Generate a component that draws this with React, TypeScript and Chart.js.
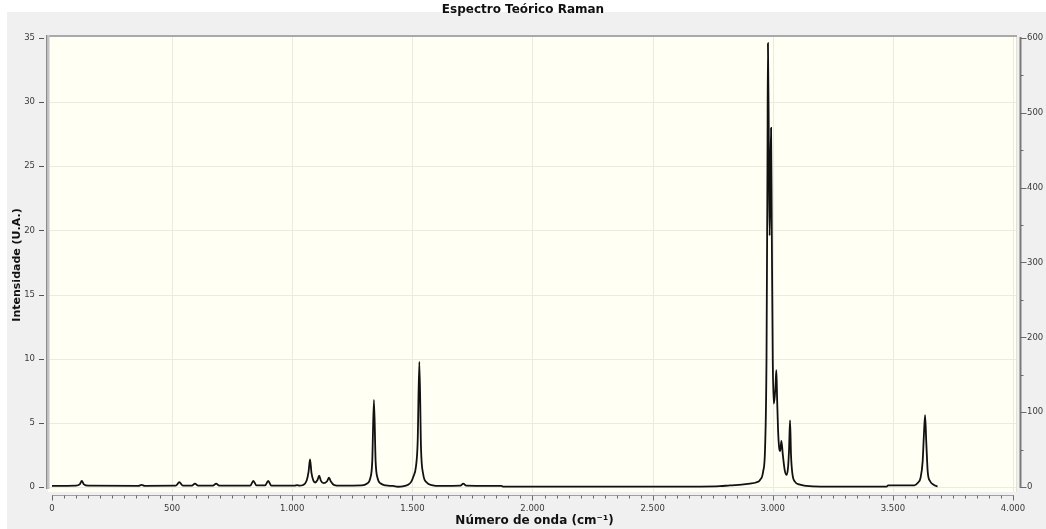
import { useEffect, useRef } from "react";
import { Chart, registerables } from "chart.js";

Chart.register(...registerables);

// ---- data ----
const wavenumbers: number[] = [
  0, 100, 115, 124, 133, 150, 360, 373, 386, 515, 530, 545,
  582, 595, 608, 670, 683, 696, 825, 838, 851, 887, 900, 913,
  1010, 1020, 1030, 1045, 1060, 1068, 1074, 1080, 1088, 1095, 1105, 1112,
  1119, 1130, 1145, 1153, 1160, 1175, 1200, 1290, 1310, 1325, 1333, 1340,
  1347, 1355, 1370, 1390, 1420, 1440, 1460, 1480, 1495, 1504, 1515, 1522,
  1529, 1536, 1545, 1560, 1580, 1620, 1700, 1712, 1724, 1870, 1880, 2700,
  2780, 2822, 2870, 2905, 2930, 2947, 2960, 2968, 2974, 2978, 2980, 2984,
  2987, 2990, 2993, 2996, 3000, 3004, 3008, 3012, 3015, 3018, 3022, 3027,
  3031, 3036, 3042, 3050, 3058, 3064, 3068, 3072, 3076, 3082, 3093, 3110,
  3141, 3200, 3474, 3480, 3590, 3605, 3615, 3624, 3629, 3634, 3639, 3645,
  3655, 3668, 3682, 3686,
];
const intensities: number[] = [
  0.08, 0.1, 0.2, 0.47, 0.2, 0.1, 0.09, 0.16, 0.09, 0.1, 0.37, 0.1,
  0.1, 0.27, 0.1, 0.1, 0.27, 0.1, 0.1, 0.47, 0.12, 0.12, 0.47, 0.1,
  0.1, 0.15, 0.1, 0.15, 0.5, 1.2, 2.15, 1.1, 0.5, 0.35, 0.55, 0.88,
  0.5, 0.3, 0.45, 0.73, 0.45, 0.15, 0.1, 0.12, 0.25, 0.7, 2.0, 6.78,
  2.0, 0.7, 0.25, 0.12, 0.08, 0.02, 0.05, 0.15, 0.4, 0.8, 1.6, 3.5,
  9.77, 3.0, 1.0, 0.35, 0.15, 0.08, 0.1, 0.26, 0.1, 0.08, 0.03, 0.03,
  0.06, 0.13, 0.18, 0.26, 0.35, 0.55, 1.2, 3.0, 10, 25, 34.6, 26,
  19.6, 24, 28.0, 20, 10, 6.5, 7.0, 8.1, 9.1, 7.0, 4.5, 3.0,
  2.8, 3.6, 2.5, 1.3, 0.94, 1.6, 3.0, 5.2, 2.5, 1.0, 0.4, 0.2,
  0.08, 0.03, 0.03, 0.13, 0.13, 0.35, 0.7, 2.0, 4.0, 5.6, 3.5, 1.2,
  0.45, 0.2, 0.06, 0.05,
];

const xMajorTicks: number[] = [0, 500, 1000, 1500, 2000, 2500, 3000, 3500, 4000];
const xMinorStep = 50;
const leftTicks: number[] = [0, 5, 10, 15, 20, 25, 30, 35];
const rightTicks: number[] = [0, 100, 200, 300, 400, 500, 600];
const rightMinorStep = 50;

const titleText = "Espectro Teórico Raman";
const xTitle = "Número de onda (cm⁻¹)";
const yTitle = "Intensidade (U.A.)";

const fmt = (v: number) => String(v).replace(/\B(?=(\d{3})+(?!\d))/g, ".");

const FONT = "'DejaVu Sans', 'Liberation Sans', sans-serif";

const framePlugin = {
  id: "frame",
  beforeDraw(chart: any) {
    const ctx = chart.ctx as CanvasRenderingContext2D;
    const { width, height } = chart;
    const ca = chart.chartArea;
    const xs = chart.scales.x;
    const yl = chart.scales.y;
    const yr = chart.scales.y2;
    ctx.save();
    ctx.fillStyle = "#ffffff";
    ctx.fillRect(0, 0, width, height);
    ctx.fillStyle = "#f0f0f0";
    ctx.fillRect(7, 12, width - 7, height - 12);

    const bgL = ca.left;
    const bgT = ca.top;
    const bgR = ca.right - 5;
    const bgB = ca.bottom - 3;
    ctx.fillStyle = "#fffff4";
    ctx.fillRect(bgL, bgT, bgR - bgL, bgB - bgT);

    // grid lines
    ctx.strokeStyle = "#ebebdf";
    ctx.lineWidth = 1;
    ctx.beginPath();
    for (const v of xMajorTicks) {
      if (v === 0) continue;
      const px = Math.round(xs.getPixelForValue(v)) + 0.5;
      ctx.moveTo(px, bgT);
      ctx.lineTo(px, bgB);
    }
    for (const v of leftTicks) {
      if (v === leftTicks[leftTicks.length - 1]) continue;
      const py = Math.round(yl.getPixelForValue(v)) + 0.5;
      ctx.moveTo(bgL, py);
      ctx.lineTo(bgR, py);
    }
    ctx.stroke();

    // right faint edge
    ctx.strokeStyle = "#e2e2da";
    ctx.beginPath();
    ctx.moveTo(bgR + 0.5, bgT);
    ctx.lineTo(bgR + 0.5, bgB);
    ctx.stroke();

    // top border
    ctx.strokeStyle = "#a9a9a9";
    ctx.lineWidth = 2;
    ctx.beginPath();
    ctx.moveTo(bgL, bgT + 1);
    ctx.lineTo(bgR + 1, bgT + 1);
    ctx.stroke();

    // left axis line (double shade)
    const yTop = bgT;
    const yBot = yl.getPixelForValue(0) + 2;
    ctx.strokeStyle = "#8c8c8c";
    ctx.lineWidth = 1.5;
    ctx.beginPath();
    ctx.moveTo(bgL - 1.25, yTop);
    ctx.lineTo(bgL - 1.25, yBot);
    ctx.stroke();
    ctx.strokeStyle = "#c4c4c4";
    ctx.lineWidth = 1.5;
    ctx.beginPath();
    ctx.moveTo(bgL + 0.75, yTop);
    ctx.lineTo(bgL + 0.75, yBot);
    ctx.stroke();

    // left ticks
    ctx.strokeStyle = "#555555";
    ctx.lineWidth = 1;
    ctx.beginPath();
    for (const v of leftTicks) {
      const py = Math.round(yl.getPixelForValue(v)) + 0.5;
      ctx.moveTo(bgL - 9, py);
      ctx.lineTo(bgL - 4, py);
    }
    ctx.stroke();

    // x axis line and ticks
    const x0 = xs.getPixelForValue(xMajorTicks[0]);
    const x1 = xs.getPixelForValue(xMajorTicks[xMajorTicks.length - 1]);
    const ay = ca.bottom + 0.5;
    ctx.strokeStyle = "#a0a0a0";
    ctx.lineWidth = 1;
    ctx.beginPath();
    ctx.moveTo(x0, ay);
    ctx.lineTo(x1 + 1, ay);
    ctx.stroke();
    ctx.strokeStyle = "#6a6a6a";
    ctx.beginPath();
    const xMax = xMajorTicks[xMajorTicks.length - 1];
    for (let v = xMajorTicks[0]; v <= xMax; v += xMinorStep) {
      const px = Math.round(xs.getPixelForValue(v)) + 0.5;
      const major = v % 500 === 0;
      ctx.moveTo(px, ay);
      ctx.lineTo(px, ay + (major ? 5 : 3));
    }
    ctx.stroke();

    // right axis line and ticks
    const rx = ca.right - 0.5;
    const ry0 = yr.getPixelForValue(0);
    const ry1 = yr.getPixelForValue(rightTicks[rightTicks.length - 1]);
    ctx.strokeStyle = "#7a7a7a";
    ctx.lineWidth = 2;
    ctx.beginPath();
    ctx.moveTo(rx, ry1 - 1);
    ctx.lineTo(rx, ry0 + 1);
    ctx.stroke();
    ctx.lineWidth = 1;
    ctx.strokeStyle = "#6a6a6a";
    ctx.beginPath();
    const rMax = rightTicks[rightTicks.length - 1];
    for (let v = 0; v <= rMax; v += rightMinorStep) {
      const py = Math.round(yr.getPixelForValue(v)) + 0.5;
      const major = v % 100 === 0;
      ctx.moveTo(rx, py);
      ctx.lineTo(rx + (major ? 6 : 3), py);
    }
    ctx.stroke();

    ctx.restore();
  },
};

export default function App() {
  const ref = useRef<HTMLCanvasElement | null>(null);

  useEffect(() => {
    if (!ref.current) return;
    const points = wavenumbers.map((x, i) => ({ x, y: intensities[i] }));
    const yMinL = -0.624;
    const yMaxL = 35.234;
    const chart = new Chart(ref.current, {
      type: "line",
      data: {
        datasets: [
          {
            data: points,
            borderColor: "#111111",
            borderWidth: 1.8,
            pointRadius: 0,
            cubicInterpolationMode: "monotone",
            fill: false,
            yAxisID: "y",
          },
        ],
      },
      options: {
        animation: false,
        responsive: false,
        devicePixelRatio: 1,
        layout: { padding: 0 },
        font: { family: FONT },
        plugins: {
          legend: { display: false },
          tooltip: { enabled: false },
          title: {
            display: true,
            text: titleText,
            color: "#111111",
            font: { family: FONT, size: 12, weight: "bold", lineHeight: 1.2 },
            padding: { top: 3, bottom: 17.6 },
          },
        },
        scales: {
          x: {
            type: "linear",
            position: "bottom",
            min: -16.65,
            max: 4033.3,
            afterBuildTicks: (s: any) => {
              s.ticks = xMajorTicks.map((v) => ({ value: v }));
            },
            afterFit: (s: any) => {
              s.height = 34;
            },
            ticks: {
              autoSkip: false,
              maxRotation: 0,
              padding: 9,
              color: "#3a3a3a",
              font: { family: FONT, size: 8.5 },
              callback: (v: any) => fmt(Number(v)),
            },
            grid: { drawOnChartArea: false, drawTicks: false },
            border: { display: false },
            title: {
              display: true,
              text: xTitle,
              color: "#111111",
              font: { family: FONT, size: 12, weight: "bold", lineHeight: 1.2 },
              padding: { top: 0, bottom: 1 },
            },
          },
          y: {
            type: "linear",
            position: "left",
            min: yMinL,
            max: yMaxL,
            afterBuildTicks: (s: any) => {
              s.ticks = leftTicks.map((v) => ({ value: v }));
            },
            afterFit: (s: any) => {
              s.width = 48;
            },
            ticks: {
              autoSkip: false,
              padding: 13,
              color: "#3a3a3a",
              font: { family: FONT, size: 8.5 },
              callback: (v: any) => fmt(Number(v)),
            },
            grid: { drawOnChartArea: false, drawTicks: false },
            border: { display: false },
            title: {
              display: true,
              text: yTitle,
              color: "#111111",
              font: { family: FONT, size: 11, weight: "bold", lineHeight: 1.2 },
              padding: { top: 10.4, bottom: 0 },
            },
          },
          y2: {
            type: "linear",
            position: "right",
            min: (yMinL * 600) / 35,
            max: (yMaxL * 600) / 35,
            afterBuildTicks: (s: any) => {
              s.ticks = rightTicks.map((v) => ({ value: v }));
            },
            afterFit: (s: any) => {
              s.width = 25;
            },
            ticks: {
              autoSkip: false,
              padding: 6,
              color: "#3a3a3a",
              font: { family: FONT, size: 8.5 },
              callback: (v: any) => fmt(Number(v)),
            },
            grid: { drawOnChartArea: false, drawTicks: false },
            border: { display: false },
          },
        },
      },
      plugins: [framePlugin],
    } as any);
    return () => chart.destroy();
  }, []);

  return (
    <div style={{ position: "fixed", left: 0, top: 0, width: 1046, height: 529 }}>
      <canvas ref={ref} width={1046} height={529} style={{ display: "block", width: 1046, height: 529 }} />
    </div>
  );
}
